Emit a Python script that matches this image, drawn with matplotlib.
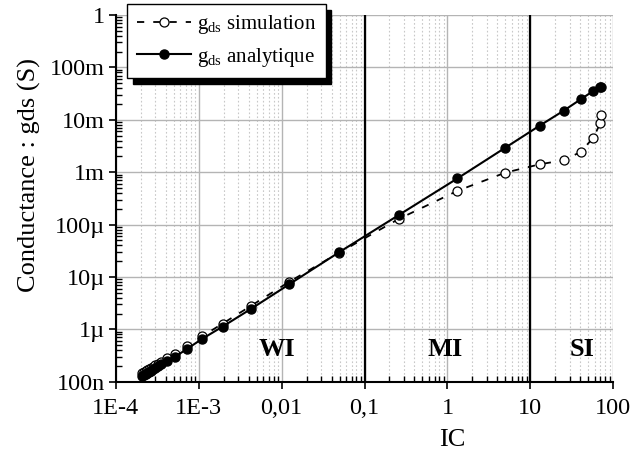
import matplotlib

matplotlib.use("Agg")
import matplotlib.pyplot as plt  # noqa: E402
from matplotlib import rcParams  # noqa: E402
from matplotlib.ticker import LogLocator, NullFormatter  # noqa: E402

rcParams["font.family"] = "Liberation Serif"
rcParams["mathtext.fontset"] = "custom"
rcParams["mathtext.rm"] = "Liberation Serif"

# data
ic = [2.1e-4, 2.2e-4, 2.3e-4, 2.4e-4, 2.5e-4, 2.65e-4, 2.8e-4, 3.0e-4, 3.2e-4,
      3.5e-4, 4.1e-4, 5.2e-4, 7.2e-4, 1.09e-3, 1.95e-3, 4.27e-3, 1.24e-2,
      4.94e-2, 0.259, 1.32, 5.0, 12.9, 25.2, 40.4, 57.4, 69.7, 71.0]
gds_analytique = [1.3e-7, 1.36e-7, 1.42e-7, 1.48e-7, 1.54e-7, 1.63e-7, 1.72e-7,
                  1.84e-7, 1.96e-7, 2.14e-7, 2.5e-7, 3.0e-7, 4.2e-7, 6.5e-7,
                  1.13e-6, 2.45e-6, 7.26e-6, 2.96e-5, 1.52e-4, 7.6e-4, 2.94e-3,
                  7.7e-3, 1.49e-2, 2.46e-2, 3.55e-2, 4.17e-2, 4.3e-2]
gds_simulation = [1.46e-7, 1.52e-7, 1.59e-7, 1.66e-7, 1.73e-7, 1.83e-7, 1.94e-7,
                  2.07e-7, 2.2e-7, 2.4e-7, 2.8e-7, 3.4e-7, 4.7e-7, 7.3e-7,
                  1.29e-6, 2.8e-6, 8.1e-6, 2.9e-5, 1.28e-4, 4.4e-4, 9.8e-4,
                  1.41e-3, 1.69e-3, 2.43e-3, 4.56e-3, 8.6e-3, 1.22e-2]

x_ticks = [1e-4, 1e-3, 1e-2, 1e-1, 1, 10, 100]
x_labels = ["1E-4", "1E-3", "0,01", "0,1", "1", "10", "100"]
y_ticks = [1e-7, 1e-6, 1e-5, 1e-4, 1e-3, 1e-2, 1e-1, 1]
y_labels = ["100n", "1µ", "10µ", "100µ", "1m", "10m", "100m", "1"]

regions = ["WI", "MI", "SI"]
region_x = [8.8e-3, 0.93, 42]
bounds = [0.1, 10]

fig = plt.figure(figsize=(6.31, 4.63), dpi=100)
ax = fig.add_axes([0.1834, 0.1756, 0.7886, 0.792])

ax.set_xscale("log")
ax.set_yscale("log")
ax.set_xlim(1e-4, 100)
ax.set_ylim(1e-7, 1)

# grid
ax.grid(True, which="major", axis="both", color="#b4b4b4", lw=1.0)
ax.grid(True, which="minor", axis="x", color="#c8c8c8", lw=0.8, ls=(0, (1.5, 2)))
ax.set_axisbelow(True)

# WI / MI / SI boundaries
for b in bounds:
    ax.axvline(b, color="black", lw=1.6, zorder=2)

ax.plot(ic, gds_simulation, ls=(0, (4, 5)), color="black", lw=1.3,
        marker="o", ms=6.5, mfc="white", mec="black", mew=0.9,
        label=r"g$_{\mathregular{ds}}$ simulation", zorder=3)
ax.plot(ic, gds_analytique, ls="-", color="black", lw=1.5,
        marker="o", ms=6.5, mfc="black", mec="black",
        label=r"g$_{\mathregular{ds}}$ analytique", zorder=4)

for name, xr in zip(regions, region_x):
    ax.text(xr, 4.2e-7, name, fontsize=19, fontweight="bold",
            ha="center", va="center")

ax.set_xticks(x_ticks)
ax.set_xticklabels(x_labels)
ax.set_yticks(y_ticks)
ax.set_yticklabels(y_labels)
ax.xaxis.set_minor_locator(LogLocator(base=10, subs=range(2, 10), numticks=20))
ax.yaxis.set_minor_locator(LogLocator(base=10, subs=range(2, 10), numticks=20))
ax.xaxis.set_minor_formatter(NullFormatter())
ax.yaxis.set_minor_formatter(NullFormatter())
ax.tick_params(which="major", direction="out", length=5, width=1.2,
               labelsize=17.5, pad=3)
ax.tick_params(which="minor", direction="in", length=4, width=1.0)
ax.tick_params(axis="x", pad=7)

for s in ["top", "right"]:
    ax.spines[s].set_visible(False)
for s in ["left", "bottom"]:
    ax.spines[s].set_linewidth(1.5)

ax.set_xlabel("IC", fontsize=19)
ax.xaxis.set_label_coords(0.676, -0.13)
ax.xaxis.label.set_va("top")
ax.set_ylabel("Conductance : gds (S)", fontsize=19)
ax.yaxis.set_label_coords(-0.15, 0.565)

leg = ax.legend(loc="upper left", bbox_to_anchor=(0.2017, 0.9914),
                bbox_transform=fig.transFigure, fontsize=15,
                frameon=True, fancybox=False, edgecolor="black",
                framealpha=1, borderaxespad=0, handlelength=2.6,
                handletextpad=0.3, borderpad=0.45, labelspacing=0.45,
                shadow={"ox": 4, "oy": -4, "color": "black", "alpha": 1})
leg.get_frame().set_linewidth(1.0)
leg.set_zorder(10)

fig.savefig("out.png", dpi=100)
